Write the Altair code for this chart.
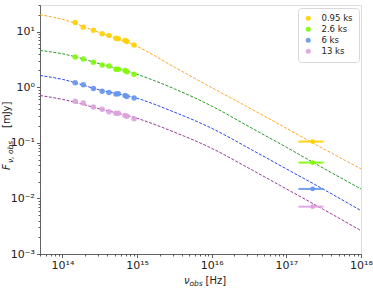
import altair as alt
import pandas as pd

FONT = "DejaVu Sans"

# Epochs after the trigger
series = ["0.95 ks", "2.6 ks", "6 ks", "13 ks"]
point_colors = ["#FFD000", "#7CFC00", "#6495ED", "#DDA0DD"]
line_colors = ["#FFA826", "#2A9A2A", "#2A48F0", "#9A3A9A"]

# Model spectra (mJy) sampled along frequency (Hz)
model_nu = [5e13, 1e14, 3.16e14, 1e15, 3.16e15, 1e16, 3.16e16, 1e17, 3.16e17, 1e18]
model_095 = [20.0, 16.6, 9.5, 5.4, 2.29, 0.98, 0.427, 0.182, 0.0776, 0.0339]
model_26 = [4.57, 3.98, 2.63, 1.70, 0.933, 0.457, 0.195, 0.0832, 0.0347, 0.0148]
model_6 = [1.62, 1.38, 0.89, 0.63, 0.355, 0.182, 0.0794, 0.0339, 0.0145, 0.00603]
model_13 = [0.708, 0.603, 0.407, 0.275, 0.155, 0.0794, 0.0347, 0.0148, 0.0063, 0.00263]

# Optical / NIR photometry
opt_nu = [1.48e14, 1.9e14, 2.6e14, 3.4e14, 4.2e14, 5.2e14, 5.6e14, 6.9e14, 7.3e14, 9.1e14]
opt_095 = [14.5, 12.0, 10.5, 9.1, 8.5, 7.6, 7.4, 6.9, 6.6, 5.75]
opt_26 = [3.5, 3.2, 2.8, 2.5, 2.4, 2.1, 2.1, 2.0, 1.9, 1.7]
opt_6 = [1.2, 1.1, 0.95, 0.84, 0.80, 0.75, 0.76, 0.71, 0.68, 0.64]
opt_13 = [0.56, 0.52, 0.44, 0.40, 0.36, 0.34, 0.34, 0.31, 0.30, 0.27]

# X-ray band flux density
xray_nu = 2.25e17
xray_lo = 1.45e17
xray_hi = 3.15e17
xray_flux = [0.105, 0.044, 0.0148, 0.0071]

models = [model_095, model_26, model_6, model_13]
opts = [opt_095, opt_26, opt_6, opt_13]

model_keys = [s + " model" for s in series]
band_keys = [s + " X-ray" for s in series]

model_df = pd.DataFrame(
    [{"curve": k, "nu": n, "F": f} for k, vals in zip(model_keys, models) for n, f in zip(model_nu, vals)]
)
opt_df = pd.DataFrame(
    [{"series": s, "nu": n, "F": f} for s, vals in zip(series, opts) for n, f in zip(opt_nu, vals)]
)
xray_df = pd.DataFrame(
    {
        "series": series,
        "curve": band_keys,
        "nu": [xray_nu] * 4,
        "lo": [xray_lo] * 4,
        "hi": [xray_hi] * 4,
        "F": xray_flux,
    }
)

# Major + minor log ticks
x_ticks = [m * 10 ** e for e in range(13, 19) for m in range(1, 10) if 5e13 <= m * 10 ** e <= 1e18]
y_ticks = [m * 10.0 ** e for e in range(-3, 2) for m in range(1, 10) if 1e-3 <= m * 10.0 ** e <= 30]

is_major = "abs(log(datum.value)/LN10 - round(log(datum.value)/LN10)) < 0.001"
sup = (
    "replace(replace(replace(replace(replace(replace(replace(replace(replace(replace(replace("
    "toString(round(log(datum.value)/LN10)),"
    "'-','⁻'),'0','⁰'),'1','¹'),'2','²'),'3','³'),'4','⁴'),'5','⁵'),'6','⁶'),'7','⁷'),'8','⁸'),'9','⁹')"
)
label_expr = f"({is_major}) ? '10' + {sup} : ''"


def make_axis(values):
    return alt.Axis(
        values=values,
        title=None,
        grid=False,
        labelExpr=label_expr,
        labelOverlap=False,
        labelFlush=False,
        labelFont=FONT,
        labelFontSize=11,
        labelColor="#222",
        labelPadding=2,
        tickColor="#333",
        tickWidth=0.8,
        tickSize={"condition": {"test": is_major, "value": 3.5}, "value": 2},
        domainColor="#444",
        domainWidth=0.8,
    )


x_axis = make_axis(x_ticks)
y_axis = make_axis(y_ticks)

x_scale = alt.Scale(type="log", domain=[5e13, 1e18], nice=False)
y_scale = alt.Scale(type="log", domain=[1e-3, 30], nice=False)

X = alt.X("nu:Q", scale=x_scale, axis=x_axis)
Y = alt.Y("F:Q", scale=y_scale, axis=y_axis)

# one stroke scale shared by model curves and X-ray band bars
stroke_scale = alt.Scale(domain=model_keys + band_keys, range=line_colors + point_colors)

lines = alt.Chart(model_df).mark_line(
    strokeDash=[3, 1.5], strokeWidth=1, interpolate="monotone"
).encode(
    x=X,
    y=Y,
    stroke=alt.Stroke("curve:N", scale=stroke_scale, legend=None),
)

xbars = alt.Chart(xray_df).mark_rule(strokeWidth=2, opacity=0.9).encode(
    x=alt.X("lo:Q", scale=x_scale, axis=x_axis),
    x2="hi:Q",
    y=Y,
    stroke=alt.Stroke("curve:N", scale=stroke_scale, legend=None),
)

fill_scale = alt.Scale(domain=series, range=point_colors)
legend = alt.Legend(
    title=None,
    orient="none",
    legendX=258,
    legendY=3,
    fillColor="white",
    strokeColor="#d8d8d8",
    cornerRadius=3,
    padding=6,
    symbolType="circle",
    symbolSize=25,
    symbolStrokeWidth=0,
    labelFont=FONT,
    labelFontSize=8.5,
    labelColor="#222",
    rowPadding=2,
    labelOffset=9,
)

opt_pts = alt.Chart(opt_df).mark_circle(size=30, opacity=0.9).encode(
    x=X, y=Y, fill=alt.Fill("series:N", scale=fill_scale, legend=legend)
)
xray_pts = alt.Chart(xray_df).mark_circle(size=22, opacity=0.95).encode(
    x=X, y=Y, fill=alt.Fill("series:N", scale=fill_scale, legend=legend)
)

one = pd.DataFrame({"k": [0]})


def label(text, x, y, size, angle=0, italic=False):
    kw = dict(font=FONT, fontSize=size, align="left", baseline="alphabetic", color="#222")
    if italic:
        kw["fontStyle"] = "italic"
    if angle:
        kw["angle"] = angle
    return alt.Chart(one).mark_text(**kw).encode(
        x=alt.value(x), y=alt.value(y), text=alt.value(text)
    )


# x-axis title: nu_obs [Hz]
xt_y = 279
x_title = [
    label("ν", 144, xt_y, 10, italic=True),
    label("obs", 149.5, xt_y + 2, 7.5, italic=True),
    label("[Hz]", 165.5, xt_y, 10),
]

# y-axis title: F_{nu, obs} [mJy], rotated
yt_x = -30
y_title = [
    label("F", yt_x, 165, 10, angle=270, italic=True),
    label("ν, obs", yt_x + 2.5, 158, 7.5, angle=270, italic=True),
    label("[mJy]", yt_x, 123, 10, angle=270),
]

chart = alt.layer(
    lines, xbars, opt_pts, xray_pts, *x_title, *y_title
).properties(
    width=321,
    height=249,
    autosize="none",
    padding={"left": 40, "top": 5, "right": 12, "bottom": 34},
).configure_view(
    stroke="#666", strokeWidth=0.8
).configure(
    background="white"
)

chart.save("out.html", embed_options={"renderer": "svg", "actions": False})
